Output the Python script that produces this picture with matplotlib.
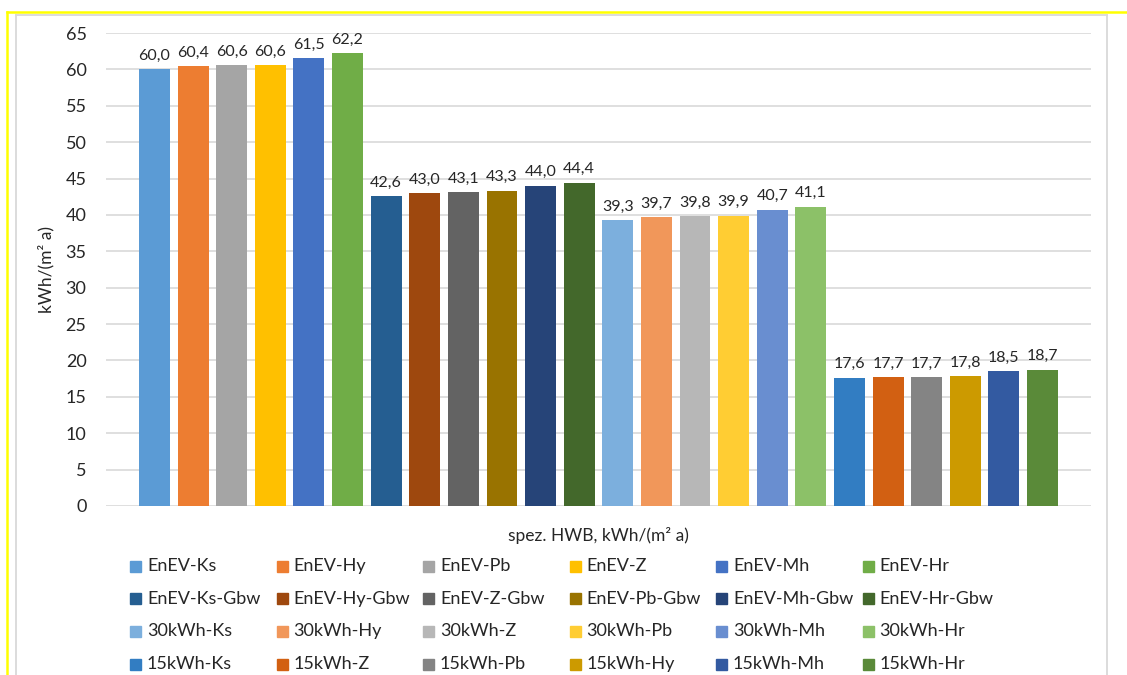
import matplotlib
matplotlib.use("Agg")
import matplotlib.pyplot as plt
from matplotlib.patches import Rectangle
from matplotlib.lines import Line2D
import numpy as np

plt.rcParams["font.family"] = ["Lato", "DejaVu Sans"]

# series as shown in the legend (row by row)
labels = [
    "EnEV-Ks", "EnEV-Hy", "EnEV-Pb", "EnEV-Z", "EnEV-Mh", "EnEV-Hr",
    "EnEV-Ks-Gbw", "EnEV-Hy-Gbw", "EnEV-Z-Gbw", "EnEV-Pb-Gbw", "EnEV-Mh-Gbw", "EnEV-Hr-Gbw",
    "30kWh-Ks", "30kWh-Hy", "30kWh-Z", "30kWh-Pb", "30kWh-Mh", "30kWh-Hr",
    "15kWh-Ks", "15kWh-Z", "15kWh-Pb", "15kWh-Hy", "15kWh-Mh", "15kWh-Hr",
]
values = [
    60.0, 60.4, 60.6, 60.6, 61.5, 62.2,
    42.6, 43.0, 43.1, 43.3, 44.0, 44.4,
    39.3, 39.7, 39.8, 39.9, 40.7, 41.1,
    17.6, 17.7, 17.7, 17.8, 18.5, 18.7,
]
colors = [
    "#5B9BD5", "#ED7D31", "#A5A5A5", "#FFC000", "#4472C4", "#70AD47",
    "#255E91", "#9E480E", "#636363", "#997300", "#264478", "#43682B",
    "#7CAFDD", "#F1975A", "#B7B7B7", "#FFCD33", "#698ED0", "#8CC168",
    "#327DC2", "#D26012", "#848484", "#CC9A00", "#335AA1", "#5A8A39",
]
y_ticks = list(range(0, 70, 5))

W, H = 1127, 675
fig = plt.figure(figsize=(W / 100, H / 100), dpi=100)
fig.patch.set_facecolor("white")

# page decoration: yellow frame and light chart border
fig.add_artist(Line2D([7 / W, 7 / W], [0, 1 - 12 / H], color="#FFFF00", lw=1.8))
fig.add_artist(Line2D([7 / W, 1], [1 - 12 / H, 1 - 12 / H], color="#FFFF00", lw=1.8))
fig.add_artist(Line2D([16 / W, 16 / W], [0, 1 - 15 / H], color="#D9D9D9", lw=1.3))
fig.add_artist(Line2D([1107 / W, 1107 / W], [0, 1 - 15 / H], color="#D9D9D9", lw=1.3))
fig.add_artist(Line2D([16 / W, 1107 / W], [1 - 15 / H, 1 - 15 / H], color="#D9D9D9", lw=1.3))

ax = fig.add_axes([106 / W, 1 - 506 / H, 985 / W, 473 / H])
x = np.arange(len(values))
ax.bar(x, values, width=0.8, color=colors, zorder=3)
for xi, v in zip(x, values):
    ax.text(xi, v + 0.9, f"{v:.1f}".replace(".", ","), ha="center", va="bottom",
            fontsize=11.5, color="#262626")

ax.set_xlim(-1.256, len(values) - 1 + 1.256)
ax.set_ylim(0, 65)
ax.set_yticks(y_ticks)
ax.set_xticks([])
ax.tick_params(axis="y", length=0, pad=14, labelsize=13, labelcolor="#262626")
ax.grid(axis="y", color="#D9D9D9", lw=1.2, zorder=0)
for s in ax.spines.values():
    s.set_visible(False)
ax.set_ylabel("kWh/(m² a)", fontsize=12.5, color="#262626")
ax.yaxis.set_label_coords(-0.052, 0.5)
ax.set_xlabel("spez. HWB, kWh/(m² a)", fontsize=12.5, color="#262626")
ax.xaxis.set_label_coords(0.5, -0.045)

# legend laid out in equal-width columns, row by row
for i, (lab, col) in enumerate(zip(labels, colors)):
    r, c = divmod(i, 6)
    lx = 130 + c * 146.5
    ly = 566 + r * 32.7
    fig.add_artist(Rectangle((lx / W, 1 - (ly + 5.5) / H), 11 / W, 11 / H,
                             transform=fig.transFigure, color=col))
    fig.text((lx + 17) / W, 1 - ly / H, lab, ha="left", va="center",
             fontsize=13, color="#262626")

fig.savefig("out.png", dpi=100)
